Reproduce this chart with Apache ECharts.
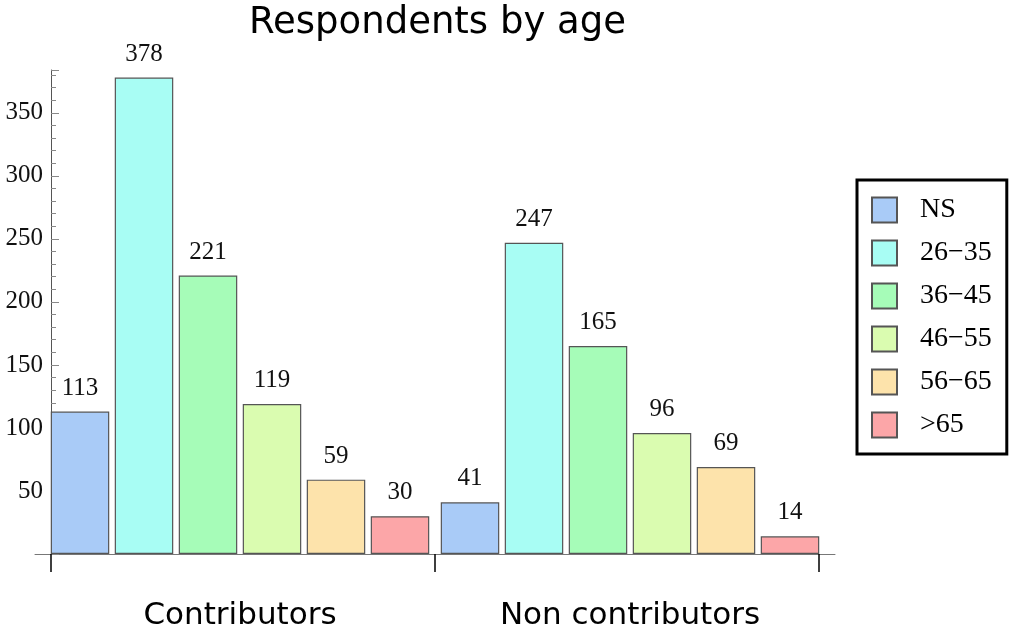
<!DOCTYPE html>
<html><head><meta charset="utf-8">
<script src="https://cdn.jsdelivr.net/npm/echarts@6/dist/echarts.min.js"></script>
<style>html,body{margin:0;padding:0;background:#fff}#c{width:1012px;height:633px}</style>
</head><body><div id="c"></div>
<script>
const categories = ['Contributors', 'Non contributors'];
const ageGroups = ['NS', '26\u221235', '36\u221245', '46\u221255', '56\u221265', '>65'];
const ns = [113, 41];
const age26_35 = [378, 247];
const age36_45 = [221, 165];
const age46_55 = [119, 96];
const age56_65 = [59, 69];
const over65 = [30, 14];
const yTicks = [50, 100, 150, 200, 250, 300, 350];

const values = [ns, age26_35, age36_45, age46_55, age56_65, over65];
const colors = ['#a9cbf7', '#a8fdf4', '#a6fcb8', '#dafcb0', '#fde3ab', '#fca6a8'];

const chart = echarts.init(document.getElementById('c'));
const serif = 'Liberation Serif';
const sans = 'DejaVu Sans';
const Y_MAX = 384;
chart.setOption({
  animation: false,
  title: {
    text: 'Respondents by age', left: 244, top: 0,
    textStyle: { fontFamily: sans, fontSize: 37, fontWeight: 'normal', color: '#000' }
  },
  legend: {
    orient: 'vertical', left: 857, top: 180,
    data: ageGroups,
    itemWidth: 25, itemHeight: 25, itemGap: 15,
    padding: [16, 15, 15, 14],
    borderColor: '#000', borderWidth: 3,
    icon: 'rect',
    textStyle: { fontFamily: serif, fontSize: 28, lineHeight: 25, color: '#000', padding: [0, 0, 0, 18] }
  },
  grid: [
    { left: 45, right: 187, top: 70, bottom: 79 },
    { left: 51, right: 193, top: 70, bottom: 79 },
    { left: 35, right: 177, top: 70, bottom: 79 }
  ],
  xAxis: [
    {
      type: 'category', data: categories, gridIndex: 0,
      axisLine: { show: false }, axisTick: { show: false },
      axisLabel: { margin: 46, fontFamily: sans, fontSize: 31, color: '#000' }
    },
    {
      type: 'value', gridIndex: 1, min: 0, max: 2, interval: 1,
      axisLine: { show: false },
      axisTick: { show: true, length: 18, lineStyle: { color: '#000', width: 1.5 } },
      axisLabel: { show: false }, splitLine: { show: false }
    },
    {
      type: 'value', gridIndex: 2, min: 0, max: 1,
      axisLine: { show: true, onZero: false, lineStyle: { color: '#777', width: 1 } },
      axisTick: { show: false }, axisLabel: { show: false }, splitLine: { show: false }
    }
  ],
  yAxis: [
    { type: 'value', gridIndex: 0, min: 0, max: Y_MAX, show: false, splitLine: { show: false } },
    {
      type: 'value', gridIndex: 1, min: 0, max: Y_MAX, interval: 50,
      axisLine: { show: true, lineStyle: { color: '#555', width: 1 } },
      axisTick: { show: true, inside: true, length: 8, lineStyle: { color: '#888' } },
      minorTick: { show: true, splitNumber: 5, length: 5, lineStyle: { color: '#888' } },
      splitLine: { show: false },
      axisLabel: {
        margin: 8, fontFamily: serif, fontSize: 25, color: '#111',
        showMaxLabel: false,
        formatter: v => (yTicks.indexOf(v) >= 0 ? String(v) : '')
      }
    },
    { type: 'value', gridIndex: 2, show: false }
  ],
  series: values.map((vals, i) => ({
    name: ageGroups[i], type: 'bar', data: vals,
    xAxisIndex: 0, yAxisIndex: 0,
    barWidth: 58.5, barGap: '9.4%',
    itemStyle: { color: colors[i], borderColor: '#555', borderWidth: 1.2 },
    label: { show: true, position: 'top', distance: 11, fontFamily: serif, fontSize: 25, color: '#111' }
  }))
});
</script></body></html>
